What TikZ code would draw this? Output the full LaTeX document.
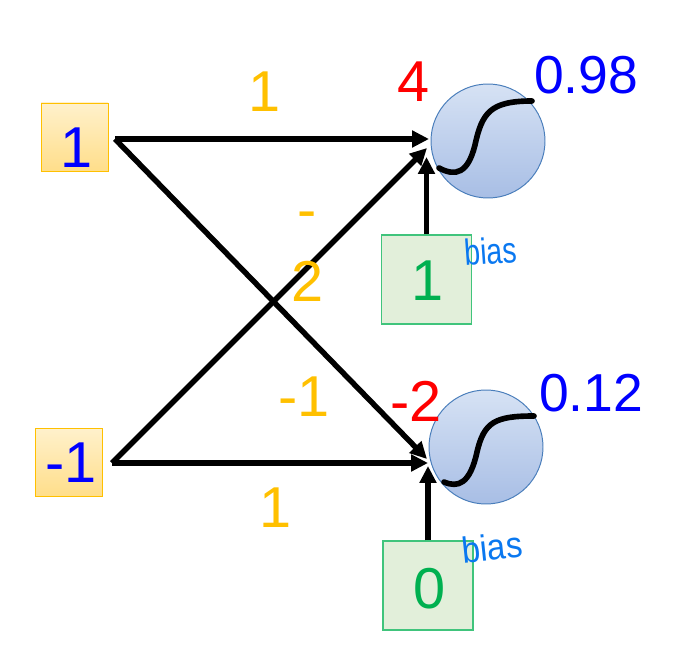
\documentclass[tikz,border=0pt]{standalone}
\usepackage{fontspec}
\setmainfont{Liberation Sans}
\usetikzlibrary{arrows.meta}
\definecolor{weightc}{HTML}{FFC000}
\definecolor{sumc}{HTML}{FF0000}
\definecolor{valuec}{HTML}{0000FF}
\definecolor{biasc}{HTML}{00B050}
\definecolor{inkc}{HTML}{0A78F0}
\definecolor{inputtop}{HTML}{FFF1CC}
\definecolor{inputbot}{HTML}{FFDE8A}
\definecolor{biasfill}{HTML}{E2EFDA}
\definecolor{neuronline}{HTML}{4A7EBB}
\definecolor{neurontop}{HTML}{D6E2F4}
\definecolor{neuronbot}{HTML}{A8BEE5}
\tikzset{
  inputbox/.style={draw=weightc,line width=0.7pt,top color=inputtop,bottom color=inputbot,minimum width=67*0.025cm,minimum height=68*0.025cm,inner sep=0pt},
  biasbox/.style={draw=biasc!75,line width=0.8pt,fill=biasfill,minimum width=90*0.025cm,minimum height=89*0.025cm,inner sep=0pt},
  neuron/.style={circle,draw=neuronline,line width=0.7pt,top color=neurontop,bottom color=neuronbot,minimum size=114*0.025cm,inner sep=0pt},
  bigtxt/.style={inner sep=0pt,font=\fontsize{41}{41}\selectfont},
  outtxt/.style={inner sep=0pt,text=valuec,font=\fontsize{38}{38}\selectfont},
  inktxt/.style={inner sep=0pt,text=inkc,font=\fontsize{26}{26}\selectfont},
  wire/.style={line width=3.9pt,-{Triangle[length=12pt,width=11.5pt]}},
  sigmoid/.style={line width=4pt,line cap=round}
}
\begin{document}
\begin{tikzpicture}[x=0.025cm,y=-0.025cm]
\useasboundingbox (0,0) rectangle (678,656);

% inputs
\node[inputbox] (inputa) at (74.5,137) {};
\node[inputbox] (inputb) at (68.5,462) {};
\node[bigtxt,text=valuec] (inputatxt) at (77,148) {1};
\node[bigtxt,text=valuec] (inputbtxt) at (71,463) {-1};

% neurons
\node[neuron] (neurona) at (488,141) {};
\node[neuron] (neuronb) at (486,447) {};
\draw[sigmoid] (439,168) .. controls (456,177) and (468,173) .. (475,145) .. controls (482,113) and (490,101) .. (532,101);
\draw[sigmoid] (444,482) .. controls (458,488) and (470,484) .. (477,452) .. controls (484,422) and (495,416) .. (534,416);

% bias
\node[biasbox] (biasa) at (426.5,279.5) {};
\node[biasbox] (biasb) at (428,585.5) {};
\node[bigtxt,text=biasc] (biasatxt) at (428,281) {1};
\node[bigtxt,text=biasc] (biasbtxt) at (430,589) {0};
\node[inktxt,rotate=4,xscale=0.78] (inka) at (491,251) {bias};
\node[inktxt,rotate=6,xscale=0.9] (inkb) at (492,547) {bias};

% connectors
\coordinate (startaa) at (115,139);
\coordinate (startbb) at (112,463);
\coordinate (tipaa) at (429,139);
\coordinate (tipba) at (427,148);
\coordinate (tipab) at (427,459);
\coordinate (tipbb) at (428,463);
\coordinate (tipca) at (426.5,157);
\coordinate (tipcb) at (428,466);
\draw[wire] (startaa) -- (tipaa);
\draw[wire] (startbb) -- (tipba);
\draw[wire] (startaa) -- (tipab);
\draw[wire] (startbb) -- (tipbb);
\draw[wire] (biasa.north) -- (tipca);
\draw[wire] (biasb.north) -- (tipcb);

% weights
\node[bigtxt,text=weightc] (wa) at (265,92) {1};
\node[bigtxt,text=weightc] (wbminus) at (307,221) {-};
\node[bigtxt,text=weightc] (wb) at (308,281) {2};
\node[bigtxt,text=weightc] (wc) at (304,397) {-1};
\node[bigtxt,text=weightc] (wd) at (276,508) {1};

% sums and outputs
\node[bigtxt,text=sumc] (suma) at (414,82) {4};
\node[bigtxt,text=sumc] (sumb) at (416,401) {-2};
\node[outtxt] (outa) at (586,75) {0.98};
\node[outtxt] (outb) at (591,393) {0.12};
\end{tikzpicture}
\end{document}
